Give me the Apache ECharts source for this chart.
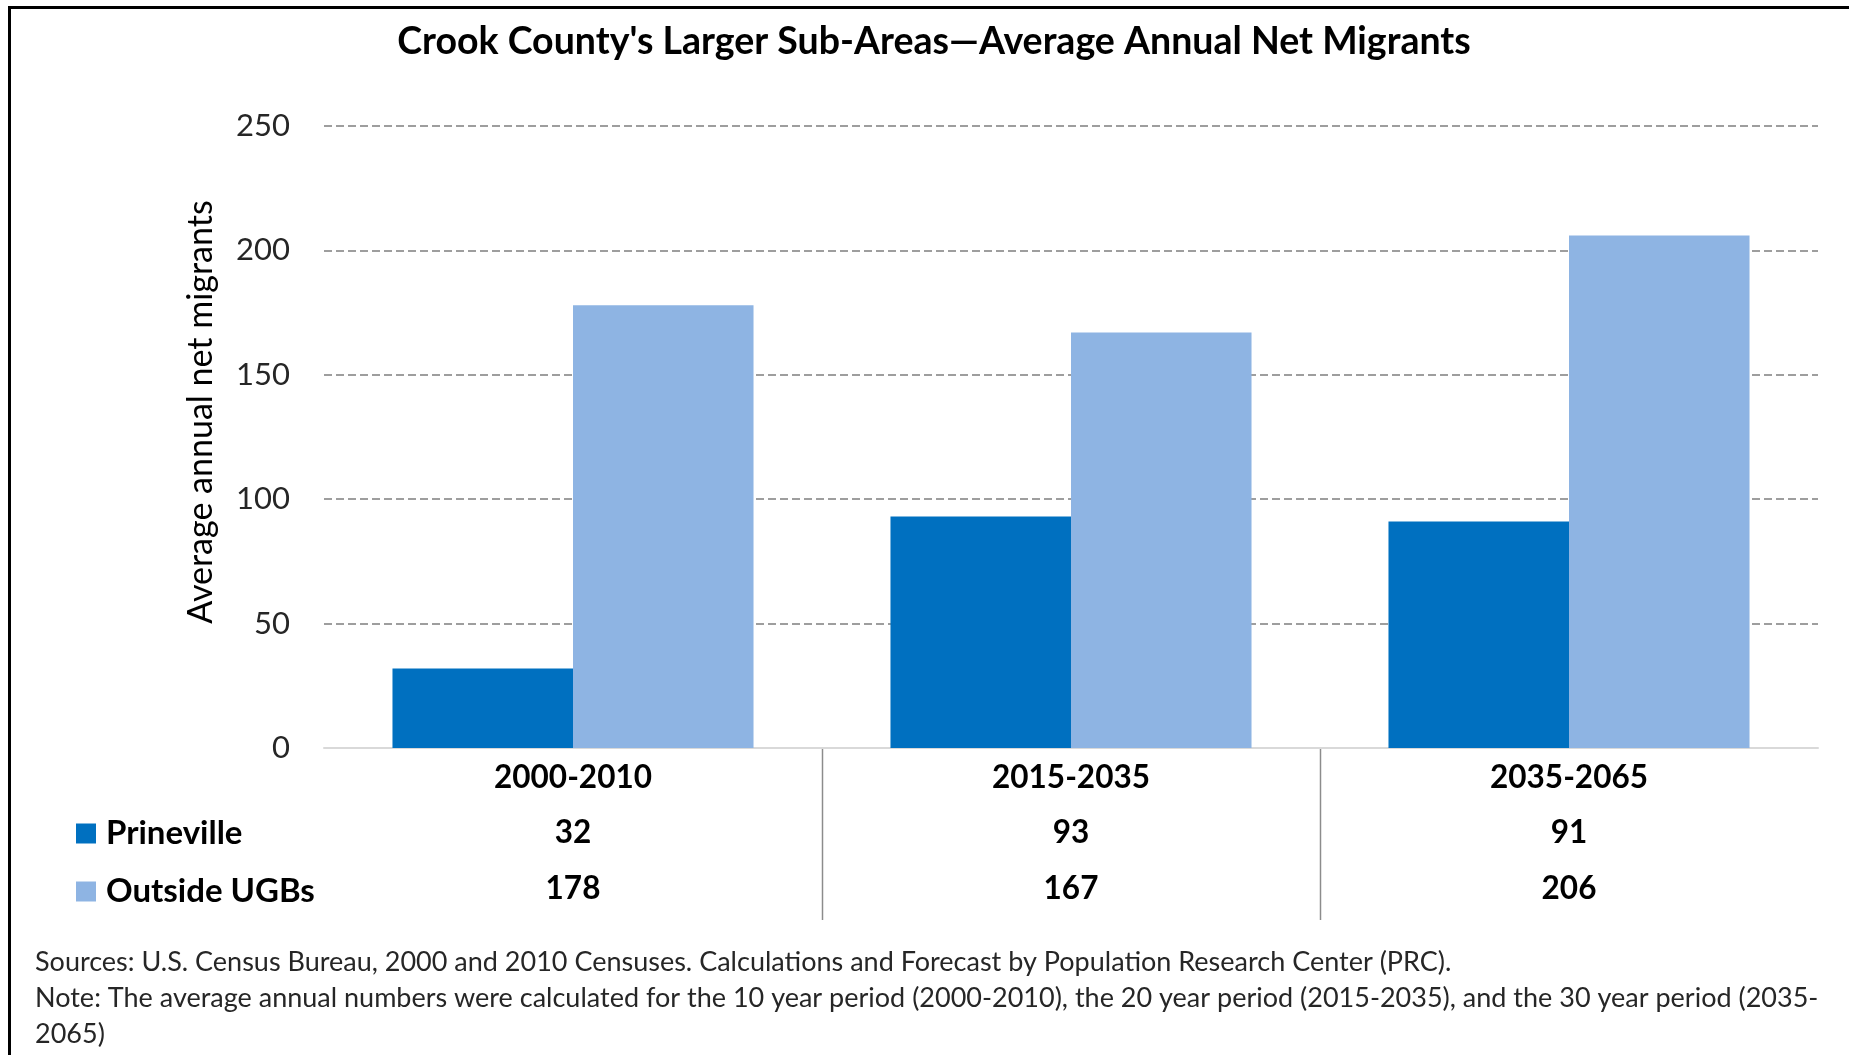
<!DOCTYPE html>
<html>
<head>
<meta charset="utf-8">
<script src="https://cdn.jsdelivr.net/npm/echarts@6/dist/echarts.min.js"></script>
<style>
html,body{margin:0;padding:0;background:#fff;}
#chart{width:1849px;height:1055px;}
</style>
</head>
<body>
<div id="chart"></div>
<script>
const titleText = "Crook County's Larger Sub-Areas\u2014Average Annual Net Migrants";
const yAxisName = "Average annual net migrants";
const categories = ["2000-2010", "2015-2035", "2035-2065"];
const seriesNames = ["Prineville", "Outside UGBs"];
const prineville = [32, 93, 91];
const outsideUGBs = [178, 167, 206];
const yTicks = { min: 0, max: 250, interval: 50 };
const footerLines = [
  "Sources: U.S. Census Bureau, 2000 and 2010 Censuses. Calculations and Forecast by Population Research Center (PRC).",
  "Note: The average annual numbers were calculated for the 10 year period (2000-2010), the 20 year period (2015-2035), and the 30 year period (2035-",
  "2065)"
];

const colors = ["#0070C0", "#8EB4E3"];
const FONT = "Lato";
const chart = echarts.init(document.getElementById('chart'), null, {renderer: 'canvas'});

const gridTop = 126, gridBottomY = 748, gridLeft = 324, gridRightX = 1818;

function tableAxis(values, offset) {
  return {
    type: 'category',
    data: values.map(String),
    position: 'bottom',
    offset: offset,
    axisLine: {show: false},
    axisTick: {show: false},
    axisLabel: {
      fontFamily: FONT, fontWeight: 'bold', fontSize: 31.5, lineHeight: 30,
      color: '#000', margin: 15, interval: 0
    }
  };
}

const option = {
  backgroundColor: '#fff',
  animation: false,
  color: colors,
  title: {
    text: titleText,
    left: 929, top: 18, textAlign: 'center',
    textStyle: {fontFamily: FONT, fontWeight: 'bold', fontSize: 37.5, color: '#000'}
  },
  legend: {
    orient: 'vertical',
    left: 71, top: 812,
    itemWidth: 20, itemHeight: 20, itemGap: 25,
    icon: 'rect',
    data: seriesNames,
    selectedMode: false,
    textStyle: {fontFamily: FONT, fontWeight: 'bold', fontSize: 33, lineHeight: 32, color: '#000', padding: [0,0,0,5]}
  },
  grid: {left: gridLeft, right: 1849 - gridRightX, top: gridTop, bottom: 1055 - gridBottomY, containLabel: false},
  xAxis: [
    {
      type: 'category',
      data: categories,
      axisLine: {show: true, lineStyle: {color: '#d9d9d9', width: 2}},
      axisTick: {show: false},
      axisLabel: {fontFamily: FONT, fontWeight: 'bold', fontSize: 31.5, lineHeight: 30, color: '#000', margin: 15, interval: 0}
    },
    tableAxis(prineville, 55),
    tableAxis(outsideUGBs, 111)
  ],
  yAxis: {
    type: 'value',
    min: yTicks.min, max: yTicks.max, interval: yTicks.interval,
    axisLine: {show: false},
    axisTick: {show: false},
    axisLabel: {fontFamily: FONT, fontSize: 31, color: '#262626', margin: 34},
    splitLine: {show: true, lineStyle: {color: '#7f7f7f', width: 1.5, type: [8, 4]}}
  },
  series: [
    {name: seriesNames[0], type: 'bar', data: prineville, barGap: '0%', barCategoryGap: '27.5%', xAxisIndex: 0},
    {name: seriesNames[1], type: 'bar', data: outsideUGBs, barGap: '0%', barCategoryGap: '27.5%', xAxisIndex: 0}
  ]
};
chart.setOption(option);

// separators between categories, derived from the axis scale
const sepLines = [];
for (let i = 0; i < categories.length - 1; i++) {
  const x1 = chart.convertToPixel({xAxisIndex: 0}, i);
  const x2 = chart.convertToPixel({xAxisIndex: 0}, i + 1);
  const x = Math.round((x1 + x2) / 2) + 0.5;
  sepLines.push({
    type: 'line', silent: true,
    shape: {x1: x, y1: gridBottomY, x2: x, y2: 920},
    style: {stroke: '#8c8c8c', lineWidth: 1.5}
  });
}

chart.setOption({
  graphic: [
    ...sepLines,
    {
      type: 'text', silent: true,
      x: 201, y: 412, rotation: Math.PI / 2,
      style: {text: yAxisName, fontFamily: FONT, fontSize: 34, fill: '#000', align: 'center', verticalAlign: 'middle'}
    },
    {
      type: 'text', silent: true,
      left: 35, top: 944,
      style: {text: footerLines.join('\n'), fontFamily: FONT, fontSize: 27, lineHeight: 36, fill: '#262626'}
    },
    {
      type: 'polyline', silent: true,
      shape: {points: [[9.5, 1055], [9.5, 7.5], [1849, 7.5]]},
      style: {stroke: '#000', lineWidth: 3, fill: null}
    }
  ]
});
</script>
</body>
</html>
